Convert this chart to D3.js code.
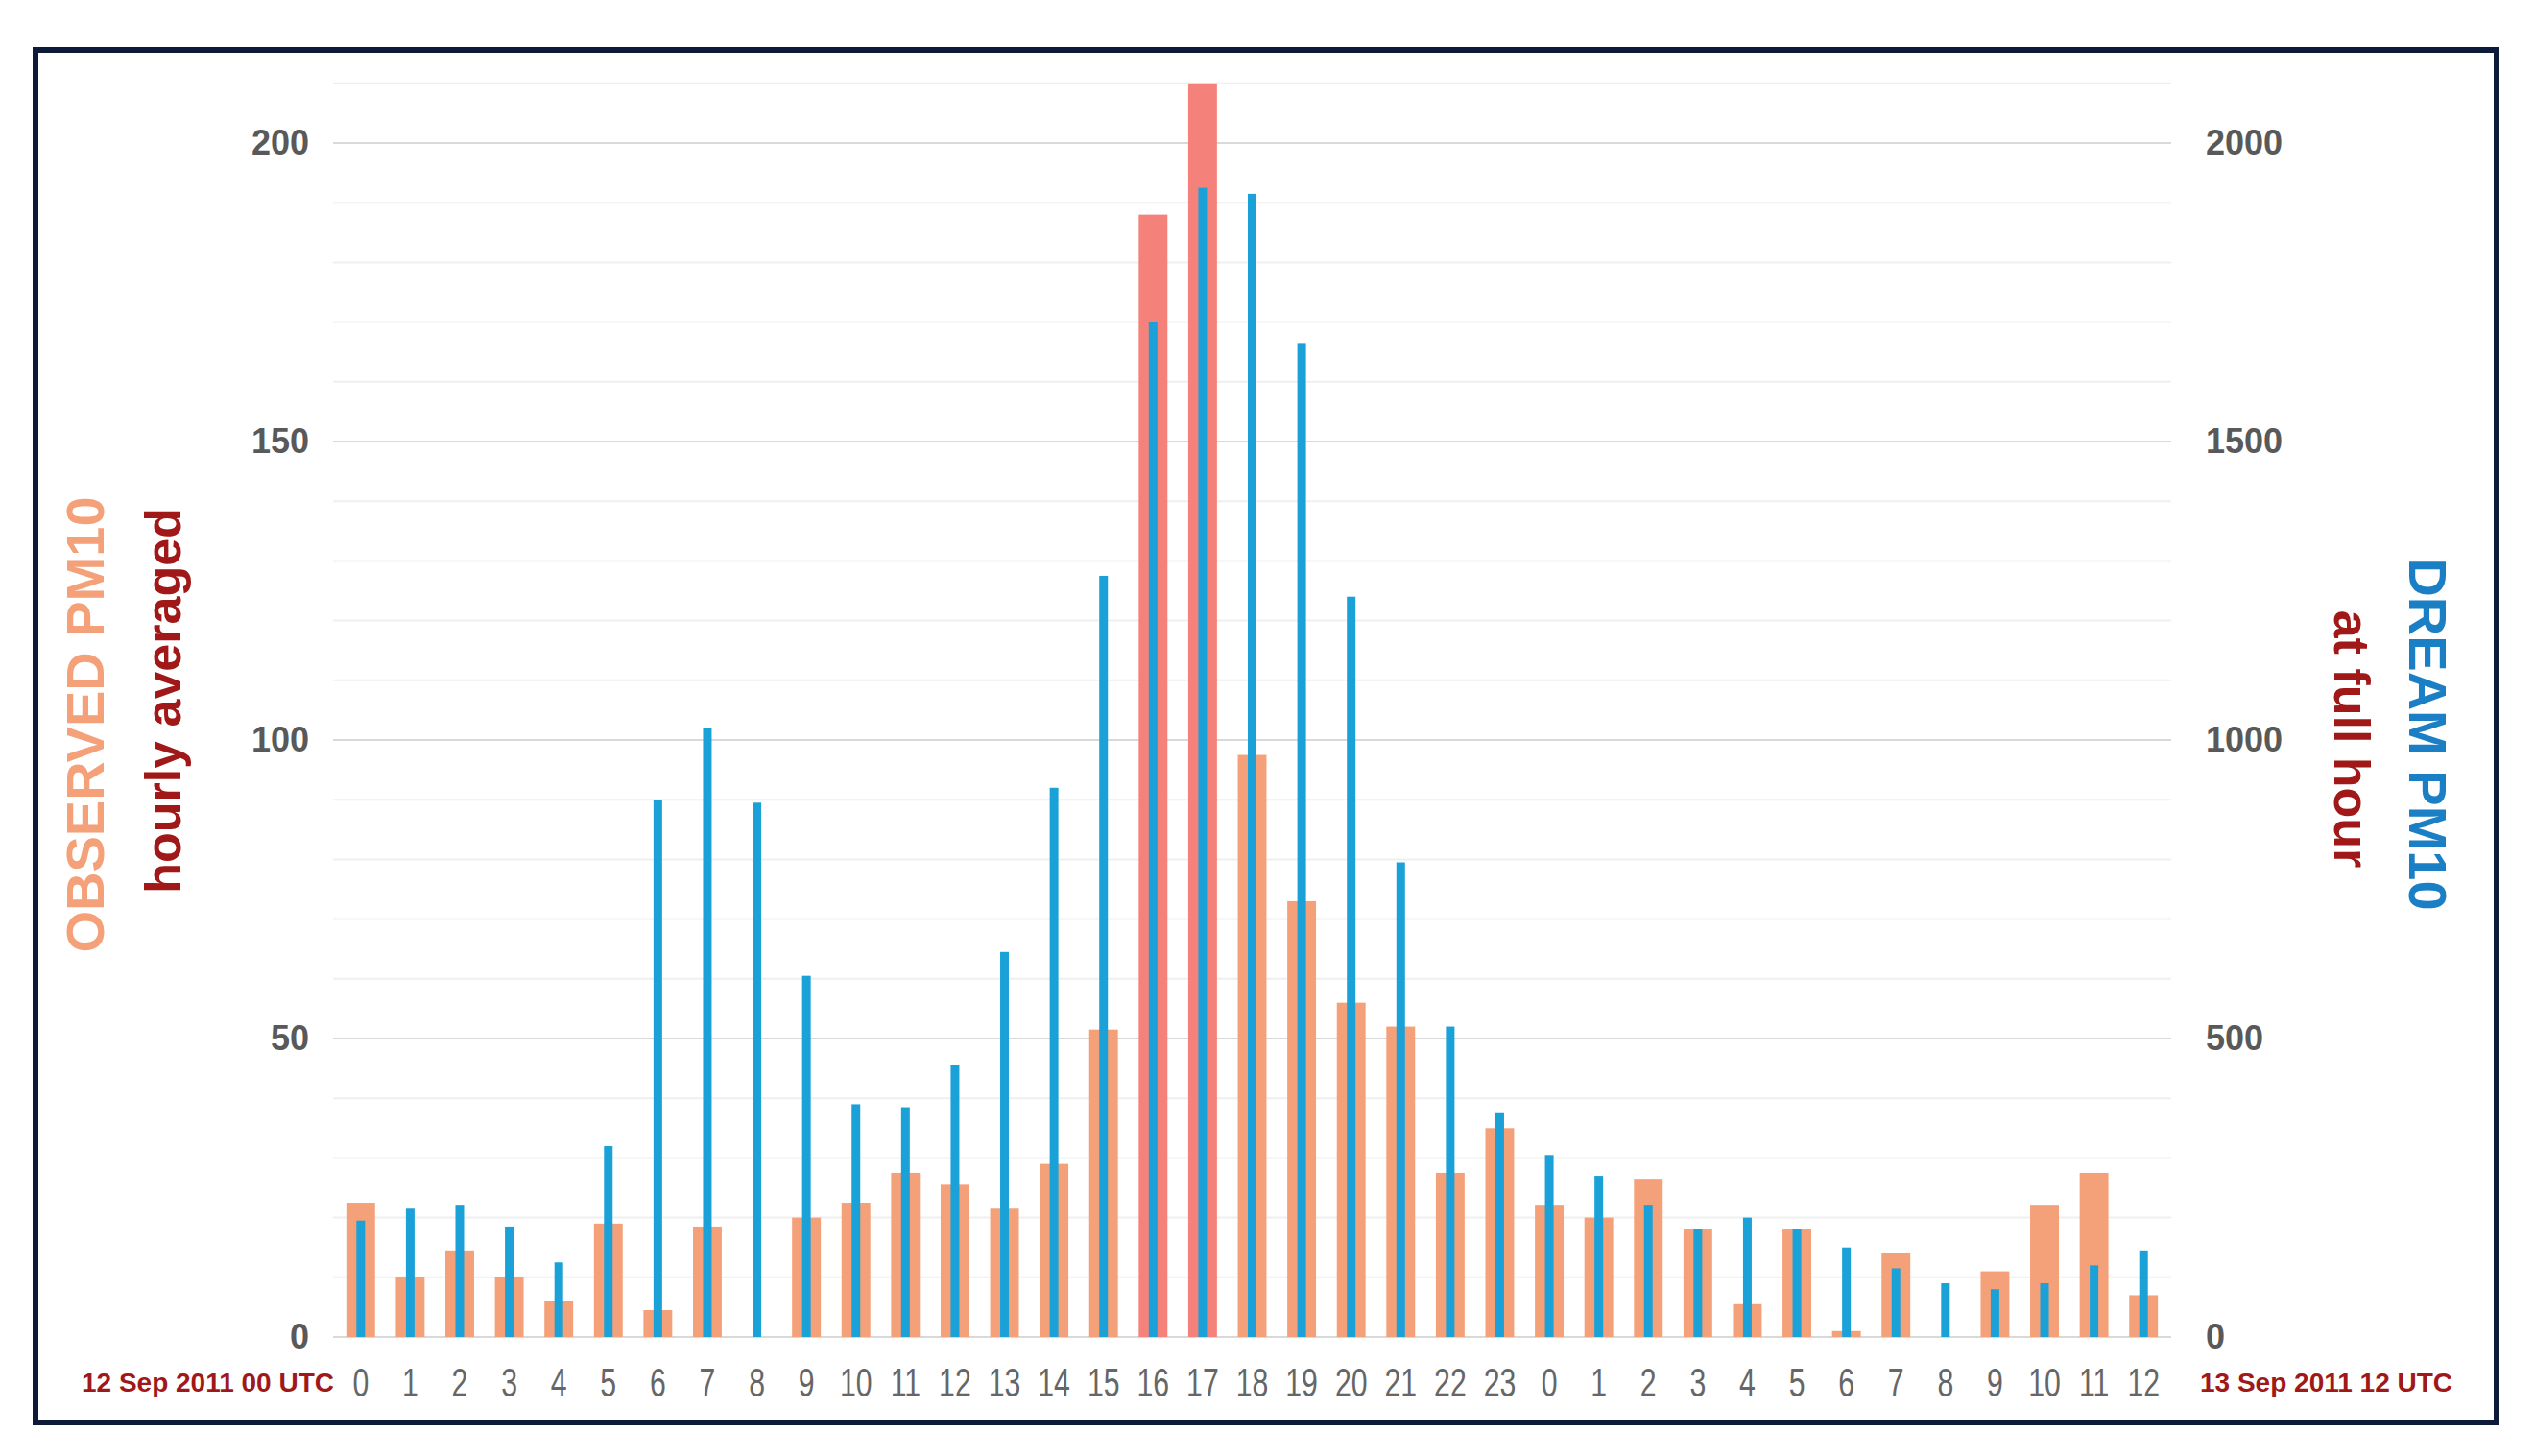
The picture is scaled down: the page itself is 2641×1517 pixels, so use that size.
<!DOCTYPE html>
<html><head><meta charset="utf-8">
<script src="https://cdn.jsdelivr.net/npm/d3@7"></script>
<style>body{margin:0;background:#fff}</style>
</head><body>
<div id="chart"></div>
<script>
var hours = ["0","1","2","3","4","5","6","7","8","9","10","11","12","13","14","15","16","17","18","19","20","21","22","23",
             "0","1","2","3","4","5","6","7","8","9","10","11","12"];
var observed = [22.5,10,14.5,10,6,19,4.5,18.5,0,20,22.5,27.5,25.5,21.5,29,51.5,188,210,97.5,73,56,52,27.5,35,
                22,20,26.5,18,5.5,18,1,14,0,11,22,27.5,7];
var dream = [195,215,220,185,125,320,900,1020,895,605,390,385,455,645,920,1275,1700,1925,1915,1665,1240,795,520,375,
             305,270,220,180,200,180,150,115,90,80,90,120,145];
var leftTicks = [0,50,100,150,200];
var rightTicks = [0,500,1000,1500,2000];

var width = 2641, height = 1517;
var svg = d3.select("#chart").append("svg").attr("width", width).attr("height", height);

// frame
svg.append("rect").attr("x", 37).attr("y", 52).attr("width", 2578 - 14).attr("height", 1430)
    .attr("fill", "none").attr("stroke", "#0e1a3a").attr("stroke-width", 6);

var idx = d3.range(hours.length);
var x = d3.scaleBand().domain(idx).range([350, 2259]).paddingInner(0.42).paddingOuter(0.21);
var yL = d3.scaleLinear().domain([0, 200]).range([1393, 149]);
var yR = d3.scaleLinear().domain([0, 2000]).range([1393, 149]);

// gridlines
svg.append("g").selectAll("line").data(d3.range(10, 211, 10)).enter().append("line")
    .attr("x1", 347).attr("x2", 2262)
    .attr("y1", d => yL(d)).attr("y2", d => yL(d))
    .attr("stroke", d => d % 50 == 0 ? "#d9d9d9" : "#efefef").attr("stroke-width", 2);
svg.append("line").attr("x1", 347).attr("x2", 2262).attr("y1", yL(0)).attr("y2", yL(0))
    .attr("stroke", "#d9d9d9").attr("stroke-width", 2);

// observed bars
svg.append("g").selectAll("rect").data(observed).enter().append("rect")
    .attr("x", (d, i) => x(i))
    .attr("y", d => yL(d))
    .attr("width", x.bandwidth())
    .attr("height", d => yL(0) - yL(d))
    .attr("fill", (d, i) => (i == 16 || i == 17) ? "#f4817a" : "#f4a078");

// dream bars
var bw = 9;
svg.append("g").selectAll("rect").data(dream).enter().append("rect")
    .attr("x", (d, i) => x(i) + x.bandwidth() / 2 - bw / 2)
    .attr("y", d => yR(d))
    .attr("width", bw)
    .attr("height", d => yR(0) - yR(d))
    .attr("fill", "#1aa2d8");

// axes
var lAxis = svg.append("g").attr("transform", "translate(322,0)")
    .call(d3.axisLeft(yL).tickValues(leftTicks).tickSize(0).tickPadding(0));
var rAxis = svg.append("g").attr("transform", "translate(2298,0)")
    .call(d3.axisRight(yR).tickValues(rightTicks).tickFormat(d3.format("d")).tickSize(0).tickPadding(0));
[lAxis, rAxis].forEach(g => {
    g.select(".domain").remove();
    g.selectAll("text").attr("font-family", "Liberation Sans, Arial, sans-serif").attr("font-weight", "bold")
        .attr("font-size", 36).attr("fill", "#595959");
});

var xAxis = svg.append("g").attr("transform", "translate(0,1393)")
    .call(d3.axisBottom(x).tickFormat(i => hours[i]).tickSize(0).tickPadding(0));
xAxis.select(".domain").remove();
xAxis.selectAll("text").attr("font-family", "Liberation Sans, Arial, sans-serif")
    .attr("font-size", 42).attr("fill", "#666").attr("dy", 0)
    .attr("transform", "translate(0,62) scale(0.72,1)");

// date labels
svg.append("text").attr("x", 348).attr("y", 1450).attr("text-anchor", "end")
    .attr("font-family", "Liberation Sans, sans-serif").attr("font-weight", "bold")
    .attr("font-size", 28).attr("fill", "#a01818").text("12 Sep 2011 00 UTC");
svg.append("text").attr("x", 2292).attr("y", 1450)
    .attr("font-family", "Liberation Sans, sans-serif").attr("font-weight", "bold")
    .attr("font-size", 28).attr("fill", "#a01818").text("13 Sep 2011 12 UTC");

// axis titles
svg.append("text").attr("transform", "translate(108,755) rotate(-90)").attr("text-anchor", "middle")
    .attr("font-family", "Liberation Sans, Arial, sans-serif").attr("font-size", 56).attr("font-weight", "bold")
    .attr("fill", "#f4a078").text("OBSERVED  PM10");
svg.append("text").attr("transform", "translate(188,730) rotate(-90)").attr("text-anchor", "middle")
    .attr("font-family", "Liberation Sans, Arial, sans-serif").attr("font-size", 52).attr("font-weight", "bold")
    .attr("fill", "#a01818").text("hourly averaged");
svg.append("text").attr("transform", "translate(2510,765) rotate(90)").attr("text-anchor", "middle")
    .attr("font-family", "Liberation Sans, Arial, sans-serif").attr("font-size", 56).attr("font-weight", "bold")
    .attr("fill", "#1a7fc4").text("DREAM  PM10");
svg.append("text").attr("transform", "translate(2432,770) rotate(90)").attr("text-anchor", "middle")
    .attr("font-family", "Liberation Sans, Arial, sans-serif").attr("font-size", 52).attr("font-weight", "bold")
    .attr("fill", "#a01818").text("at full hour");
</script>
</body></html>
